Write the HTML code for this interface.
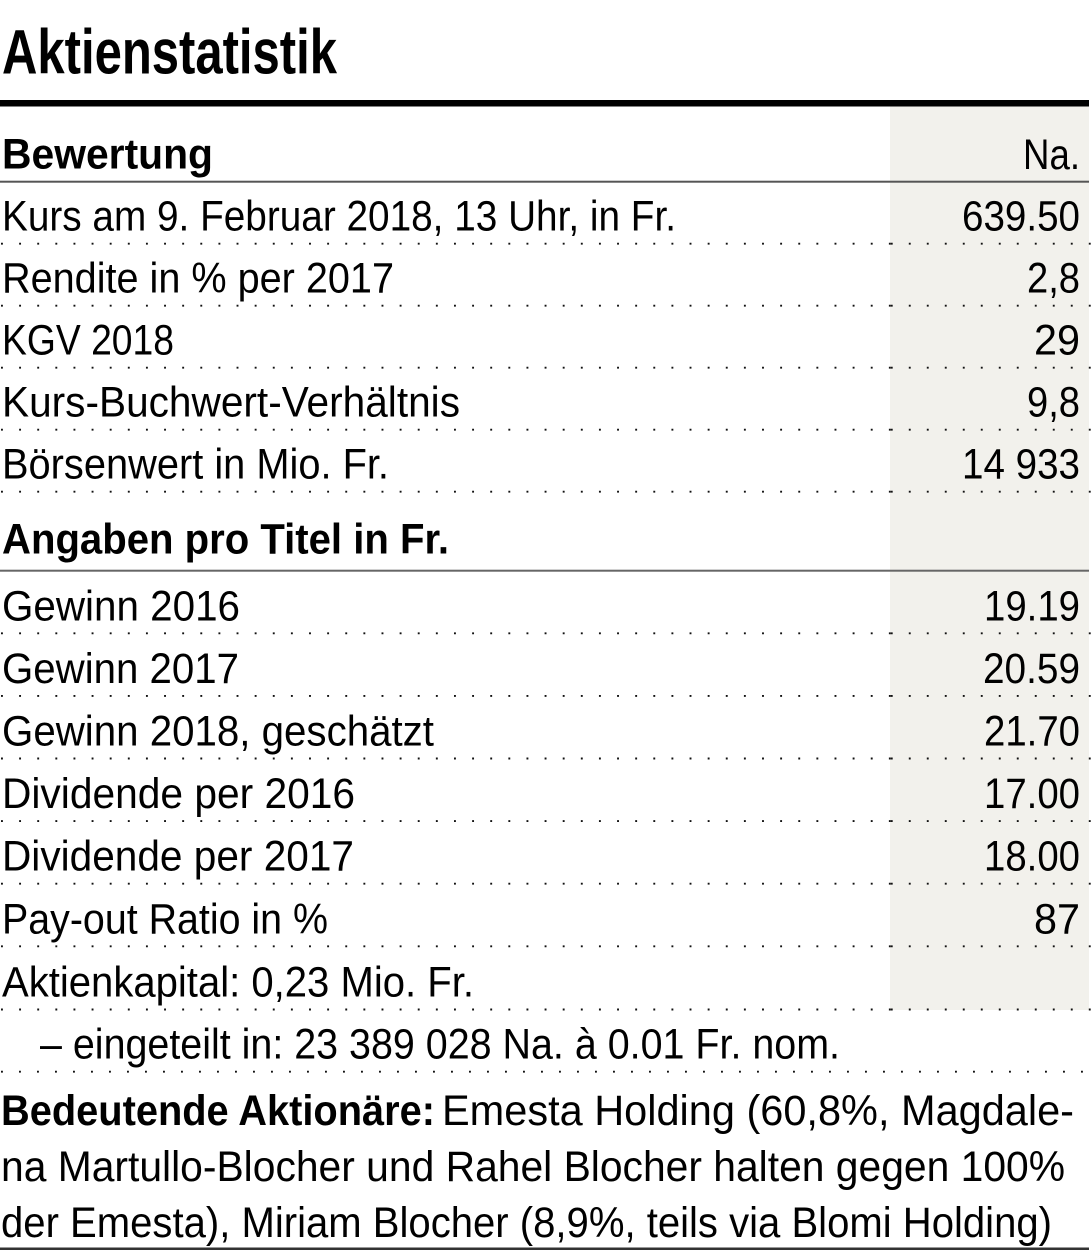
<!DOCTYPE html>
<html>
<head>
<meta charset="utf-8">
<style>
  html, body { margin: 0; padding: 0; background: #fff; }
  svg { display: block; }
  text { font-family: "Liberation Sans", "DejaVu Sans", sans-serif; fill: #000; }
  .r { font-size: 43px; }
  .b { font-size: 43px; font-weight: bold; }
  .dot { stroke: #111; stroke-width: 1.9; stroke-dasharray: 1.9 16.22; fill: none; }
  .dotR { stroke: #111; stroke-width: 1.9; stroke-dasharray: 1.9 16.1; fill: none; }
</style>
</head>
<body>
<svg width="1091" height="1260" viewBox="0 0 1091 1260" xmlns="http://www.w3.org/2000/svg">
  <rect x="0" y="0" width="1091" height="1260" fill="#fff"/>

  <!-- shaded value column -->
  <rect x="890" y="106.5" width="199" height="903.5" fill="#f2f1ec"/>

  <!-- title -->
  <text x="2" y="73.3" font-size="63" font-weight="bold" textLength="335" lengthAdjust="spacingAndGlyphs">Aktienstatistik</text>

  <!-- thick rule -->
  <rect x="0" y="100" width="1089" height="6.5" fill="#000"/>

  <!-- Bewertung header -->
  <text class="b" x="2" y="168.3" font-size="42" textLength="211" lengthAdjust="spacingAndGlyphs">Bewertung</text>
  <text class="r" x="1080" y="169" text-anchor="end" textLength="57" lengthAdjust="spacingAndGlyphs">Na.</text>
  <rect x="0" y="180.7" width="1089" height="2" fill="#555"/>

  <!-- Bewertung rows -->
  <text class="r" x="2" y="230.7" textLength="674" lengthAdjust="spacingAndGlyphs">Kurs am 9. Februar 2018, 13 Uhr, in Fr.</text>
  <text class="r" x="1080" y="230.7" text-anchor="end" textLength="118" lengthAdjust="spacingAndGlyphs">639.50</text>
  <line class="dot" x1="1" y1="243.7" x2="891" y2="243.7"/>
  <line class="dotR" x1="890.8" y1="243.7" x2="1091" y2="243.7"/>

  <text class="r" x="2" y="292.7" textLength="392" lengthAdjust="spacingAndGlyphs">Rendite in % per 2017</text>
  <text class="r" x="1080" y="292.7" text-anchor="end" textLength="53" lengthAdjust="spacingAndGlyphs">2,8</text>
  <line class="dot" x1="1" y1="305.7" x2="891" y2="305.7"/>
  <line class="dotR" x1="890.8" y1="305.7" x2="1091" y2="305.7"/>

  <text class="r" x="2" y="354.7" textLength="172" lengthAdjust="spacingAndGlyphs">KGV 2018</text>
  <text class="r" x="1080" y="354.7" text-anchor="end" textLength="46" lengthAdjust="spacingAndGlyphs">29</text>
  <line class="dot" x1="1" y1="367.7" x2="891" y2="367.7"/>
  <line class="dotR" x1="890.8" y1="367.7" x2="1091" y2="367.7"/>

  <text class="r" x="2" y="416.7" textLength="458" lengthAdjust="spacingAndGlyphs">Kurs-Buchwert-Verhältnis</text>
  <text class="r" x="1080" y="416.7" text-anchor="end" textLength="53" lengthAdjust="spacingAndGlyphs">9,8</text>
  <line class="dot" x1="1" y1="429.7" x2="891" y2="429.7"/>
  <line class="dotR" x1="890.8" y1="429.7" x2="1091" y2="429.7"/>

  <text class="r" x="2" y="478.7" textLength="387" lengthAdjust="spacingAndGlyphs">Börsenwert in Mio. Fr.</text>
  <text class="r" x="1080" y="478.7" text-anchor="end" textLength="118" lengthAdjust="spacingAndGlyphs">14 933</text>
  <line class="dot" x1="1" y1="491.7" x2="891" y2="491.7"/>
  <line class="dotR" x1="890.8" y1="491.7" x2="1091" y2="491.7"/>

  <!-- Angaben header -->
  <text class="b" x="2" y="553.3" textLength="447" lengthAdjust="spacingAndGlyphs">Angaben pro Titel in Fr.</text>
  <rect x="0" y="569.7" width="1089" height="2" fill="#666"/>

  <!-- Angaben rows -->
  <text class="r" x="2" y="620.3" textLength="238" lengthAdjust="spacingAndGlyphs">Gewinn 2016</text>
  <text class="r" x="1080" y="620.3" text-anchor="end" textLength="96" lengthAdjust="spacingAndGlyphs">19.19</text>
  <line class="dot" x1="1" y1="633.3" x2="891" y2="633.3"/>
  <line class="dotR" x1="890.8" y1="633.3" x2="1091" y2="633.3"/>

  <text class="r" x="2" y="682.9" textLength="237" lengthAdjust="spacingAndGlyphs">Gewinn 2017</text>
  <text class="r" x="1080" y="682.9" text-anchor="end" textLength="97" lengthAdjust="spacingAndGlyphs">20.59</text>
  <line class="dot" x1="1" y1="695.9" x2="891" y2="695.9"/>
  <line class="dotR" x1="890.8" y1="695.9" x2="1091" y2="695.9"/>

  <text class="r" x="2" y="745.5" textLength="432" lengthAdjust="spacingAndGlyphs">Gewinn 2018, geschätzt</text>
  <text class="r" x="1080" y="745.5" text-anchor="end" textLength="96" lengthAdjust="spacingAndGlyphs">21.70</text>
  <line class="dot" x1="1" y1="758.5" x2="891" y2="758.5"/>
  <line class="dotR" x1="890.8" y1="758.5" x2="1091" y2="758.5"/>

  <text class="r" x="2" y="808.1" textLength="353" lengthAdjust="spacingAndGlyphs">Dividende per 2016</text>
  <text class="r" x="1080" y="808.1" text-anchor="end" textLength="96" lengthAdjust="spacingAndGlyphs">17.00</text>
  <line class="dot" x1="1" y1="821.1" x2="891" y2="821.1"/>
  <line class="dotR" x1="890.8" y1="821.1" x2="1091" y2="821.1"/>

  <text class="r" x="2" y="870.7" textLength="352" lengthAdjust="spacingAndGlyphs">Dividende per 2017</text>
  <text class="r" x="1080" y="870.7" text-anchor="end" textLength="96" lengthAdjust="spacingAndGlyphs">18.00</text>
  <line class="dot" x1="1" y1="883.7" x2="891" y2="883.7"/>
  <line class="dotR" x1="890.8" y1="883.7" x2="1091" y2="883.7"/>

  <text class="r" x="2" y="933.3" textLength="326" lengthAdjust="spacingAndGlyphs">Pay-out Ratio in %</text>
  <text class="r" x="1080" y="933.3" text-anchor="end" textLength="46" lengthAdjust="spacingAndGlyphs">87</text>
  <line class="dot" x1="1" y1="946.3" x2="891" y2="946.3"/>
  <line class="dotR" x1="890.8" y1="946.3" x2="1091" y2="946.3"/>

  <text class="r" x="2" y="996.5" textLength="472" lengthAdjust="spacingAndGlyphs">Aktienkapital: 0,23 Mio. Fr.</text>
  <line class="dot" x1="1" y1="1009.5" x2="891" y2="1009.5"/>
  <line class="dotR" x1="890.8" y1="1009.5" x2="1091" y2="1009.5"/>

  <text class="r" x="40" y="1058.7" textLength="800" lengthAdjust="spacingAndGlyphs">– eingeteilt in: 23 389 028 Na. à 0.01 Fr. nom.</text>
  <line class="dotR" x1="1" y1="1071.7" x2="1091" y2="1071.7"/>

  <!-- Bedeutende Aktionäre paragraph -->
  <text class="b" x="1" y="1125" textLength="434" lengthAdjust="spacingAndGlyphs">Bedeutende Aktionäre:</text>
  <text class="r" x="442" y="1125" textLength="632" lengthAdjust="spacingAndGlyphs">Emesta Holding (60,8%, Magdale-</text>
  <text class="r" x="1" y="1181" textLength="1064" lengthAdjust="spacingAndGlyphs">na Martullo-Blocher und Rahel Blocher halten gegen 100%</text>
  <text class="r" x="1" y="1237" textLength="1051" lengthAdjust="spacingAndGlyphs">der Emesta), Miriam Blocher (8,9%, teils via Blomi Holding)</text>

  <!-- bottom rule -->
  <rect x="0" y="1247.5" width="1089" height="2.5" fill="#333"/>
</svg>
</body>
</html>
